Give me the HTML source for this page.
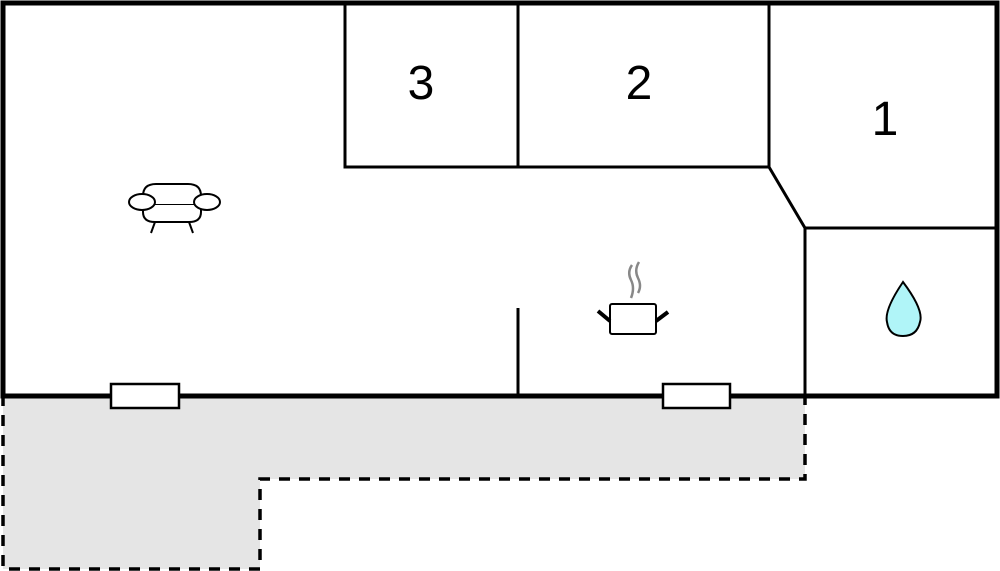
<!DOCTYPE html>
<html><head><style>html,body{margin:0;padding:0;background:#fff;width:1000px;height:571px;overflow:hidden}</style></head>
<body>
<svg width="1000" height="571" viewBox="0 0 1000 571" xmlns="http://www.w3.org/2000/svg">
<path d="M3 396 H805 V479 H260 V569 H3 Z" fill="#e5e5e5" stroke="#000" stroke-width="3.5" stroke-dasharray="11,9"/>
<rect x="3" y="3" width="994" height="393" fill="#fff" stroke="none"/>
<g stroke="#000" stroke-width="3" fill="none">
<path d="M345 3 V167 H769 M518 3 V167 M769 3 V167 L805 228 H997 M805 228 V396 M518 308 V396"/>
</g>
<rect x="3" y="3" width="994" height="393" fill="none" stroke="#000" stroke-width="5"/>
<rect x="111" y="384" width="68" height="24" fill="#fff" stroke="#000" stroke-width="2.5"/>
<rect x="663" y="384" width="67" height="24" fill="#fff" stroke="#000" stroke-width="2.5"/>
<g font-family="Liberation Sans, sans-serif" font-size="48" text-anchor="middle" fill="#000">
<text x="421" y="99">3</text>
<text x="639" y="99">2</text>
<text x="885" y="135">1</text>
</g>
<g stroke="#000" stroke-width="2" fill="#fff">
<path d="M143 196 Q143 184 156 184 H188 Q201 184 201 196 V205 H143 Z"/>
<path d="M143 205 V212 Q143 222 155 222 H189 Q201 222 201 212 V205"/>
<ellipse cx="142" cy="202" rx="13" ry="8"/>
<ellipse cx="207" cy="202" rx="13" ry="8"/>
<path d="M155 222 L151 233 M189 222 L193 233" fill="none"/>
</g>
<g>
<path d="M632 265 Q627 272 631 280 Q635 288 631 298 M639 262 Q634 270 638 278 Q642 286 638 293" stroke="#888" stroke-width="2.5" fill="none"/>
<rect x="610" y="304" width="46" height="30" rx="2" fill="#fff" stroke="#000" stroke-width="2"/>
<path d="M598 311 L610 321 M656 321 L668 312" stroke="#000" stroke-width="4"/>
</g>
<path d="M903 282 Q924 310 920 322 Q917 336 903 336 Q889 336 887 322 Q884 310 903 282 Z" fill="#b0f5f8" stroke="#000" stroke-width="2"/>
</svg>
</body></html>
